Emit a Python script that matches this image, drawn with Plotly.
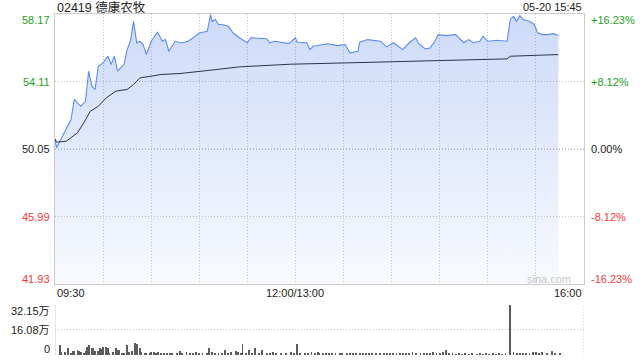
import plotly.graph_objects as go

# ---- data (minutes from 09:30 on a 330-minute trading axis; 12:00 == 13:00 at 150) ----
price_t = [0, 1, 3, 7, 10, 12, 16, 19, 21, 23, 25, 27, 30, 33, 35, 37, 39, 43, 45, 47, 49, 51, 53, 55, 57,
           60, 64, 67, 69, 71, 75, 79, 83, 86, 90, 95, 97, 98, 100, 102, 104, 108, 111, 115, 120, 122,
           132, 134, 137, 146, 150, 151, 157, 159, 161, 170, 176, 181, 184, 189, 190, 195, 203, 207,
           211, 214, 217, 221, 225, 227, 231, 234, 237, 239, 244, 250, 255, 258, 261, 265, 267, 270,
           276, 282, 284, 286, 288, 290, 292, 296, 299, 301, 304, 307, 311, 314]
price_v = [50.66, 50.12, 50.52, 51.22, 51.82, 53.03, 52.62, 52.92, 54.73, 53.83, 53.63, 55.03, 55.23,
           55.63, 55.13, 55.63, 54.73, 55.13, 56.03, 56.53, 57.73, 56.43, 56.53, 56.33, 55.73,
           56.53, 57.07, 56.53, 56.63, 55.93, 56.53, 56.43, 56.53, 56.73, 57.03, 57.13, 58.14, 57.73,
           57.84, 57.54, 57.54, 57.43, 57.04, 56.74, 56.44, 56.74,
           56.68, 56.44, 56.53, 56.39, 56.74, 56.47, 56.44, 56.03, 56.23, 56.38, 56.27, 56.33, 55.83,
           55.93, 56.47, 56.63, 56.53, 56.19, 56.44, 56.23, 56.03, 56.44, 56.74, 56.38, 56.07, 56.13,
           56.53, 56.93, 56.87, 56.93, 56.44, 56.63, 56.44, 56.53, 56.83, 56.53,
           56.59, 56.53, 57.84, 58.03, 57.73, 58.08, 57.84, 57.73, 57.54, 57.04, 56.93, 56.93, 56.99, 56.87]

avg_t = [0, 1, 7, 14, 18, 22, 27, 32, 38, 45, 49, 53, 60, 66, 78, 90, 97, 115, 136, 147, 182, 242, 282, 284, 314]
avg_v = [50.66, 50.46, 50.52, 51.02, 51.63, 52.32, 52.62, 53.13, 53.53, 53.63, 53.93, 54.33, 54.43, 54.53,
         54.59, 54.69, 54.79, 54.99, 55.11, 55.15, 55.23, 55.39, 55.47, 55.63, 55.73]

vol_t = [3, 4, 6, 8, 10, 11, 12, 14, 15, 16, 18, 19, 20, 21, 23, 24, 25, 27, 28, 29, 30, 32, 33, 34, 36, 38,
         39, 40, 42, 43, 45, 46, 48, 50, 51, 53, 54, 56, 57, 59, 60, 62, 63, 64, 66, 68, 70, 72, 73, 76, 78, 79,
         82, 84, 86, 88, 90, 92, 95, 96, 98, 100, 102, 104, 106, 108, 110, 113, 114, 116, 117, 119, 121, 123,
         125, 127, 129, 132, 134, 136, 138, 141, 144, 147, 149, 151, 153, 156, 158, 160, 162, 164,
         165, 167, 169, 171, 173, 175, 178, 179, 182, 184, 186, 188, 190, 192, 194, 196, 198, 200, 203, 205,
         207, 209, 211, 213, 215, 217, 219, 221, 223, 225, 228, 230, 232, 234, 236, 238, 240, 242, 244, 246,
         248, 250, 252, 254, 256, 258, 260, 263, 265, 267, 269, 271, 273, 275, 277, 279, 281, 284, 286, 288,
         290, 292, 294, 296, 298, 300, 302, 304, 307, 310, 312, 315]
vol_v = [6.5, 1.7, 1.7, 4.3, 1.3, 2.8, 2.8, 3.5, 2.8, 2.2, 1.3, 2.8, 5.0, 6.5, 4.3, 4.3, 2.8, 2.8, 4.3, 3.9,
         5.0, 5.0, 4.3, 1.3, 2.2, 4.3, 3.5, 3.5, 1.3, 1.3, 6.5, 2.2, 2.8, 7.8, 7.2, 4.3, 1.7, 1.3, 0.9, 0.9,
         1.7, 2.2, 1.3, 1.7, 1.3, 0.9, 1.3, 1.3, 0.9, 0.9, 2.8, 1.3,
         2.0, 1.3, 1.0, 1.7, 1.0, 1.3, 1.0, 4.5, 1.7, 1.3, 1.0, 1.3, 3.3, 1.3, 1.7, 2.8, 1.7, 1.3, 7.3, 1.3,
         3.3, 1.3, 4.3, 1.0, 3.0, 1.3, 1.0, 2.2, 1.0, 1.3, 1.0, 1.7, 1.3, 7.0, 1.3, 1.0, 1.3, 2.2, 1.3, 2.2,
         1.3, 0.9, 1.0, 0.9, 0.7, 0.7, 0.9, 1.3, 0.9, 1.3, 0.9, 1.0, 0.7, 0.9, 1.0, 0.7, 0.9, 0.7, 0.9, 0.7,
         0.9, 0.7, 0.9, 1.0, 0.7, 0.9, 0.9, 1.0, 2.2, 1.3, 0.9, 1.0, 0.9, 1.3, 1.7, 1.3, 1.0, 1.7, 3.3, 1.3,
         0.7, 0.6, 0.7, 0.6, 0.7, 0.6, 0.7, 0.6, 0.7, 0.6, 0.7, 0.6, 0.7, 0.6, 0.7, 0.6, 0.7, 32.0, 2.2, 1.3,
         1.0, 0.9, 1.3, 1.3, 1.7, 2.2, 1.3, 1.7, 1.0, 2.6, 1.0, 0.9]

prev_close = 50.05
price_ticks = [41.93, 45.99, 50.05, 54.11, 58.17]
pct_labels = ["-16.23%", "-8.12%", "0.00%", "+8.12%", "+16.23%"]
vol_ticks = [0, 16.08, 32.15]
vol_labels = ["0", "16.08万", "32.15万"]
time_ticks = [0, 150, 330]
time_labels = ["09:30", "12:00/13:00", "16:00"]
title_text = "02419 德康农牧"
stamp_text = "05-20 15:45"

GREEN = "#1ba21b"
RED = "#f03a3a"
GRID = "#c4c4c4"
DOT = "1px,2px"
FONT = "Liberation Sans, Arial, sans-serif"

fig = go.Figure()

fig.add_trace(go.Scatter(
    x=price_t, y=price_v, mode="lines", fill="tozeroy",
    line=dict(color="#5b8def", width=1.1),
    fillgradient=dict(type="vertical", start=price_ticks[0], stop=price_ticks[-1],
                      colorscale=[[0, "rgba(70,120,230,0.04)"], [1, "rgba(70,120,230,0.27)"]]),
    xaxis="x", yaxis="y", hoverinfo="skip", showlegend=False))
fig.add_trace(go.Scatter(
    x=avg_t, y=avg_v, mode="lines", line=dict(color="#2b3548", width=1),
    xaxis="x", yaxis="y", hoverinfo="skip", showlegend=False))
fig.add_trace(go.Bar(
    x=vol_t, y=vol_v, width=0.55, marker=dict(color="#5c5c5c", line=dict(width=0)),
    xaxis="x2", yaxis="y2", hoverinfo="skip", showlegend=False))

main_dom = [1 - 270 / 341, 1]
vol_dom = [0, 1 - 291 / 341]

fig.update_layout(
    width=640, height=360,
    margin=dict(l=55, r=56, t=14, b=5),
    paper_bgcolor="white", plot_bgcolor="rgba(0,0,0,0)",
    font=dict(family=FONT, size=11, color="#222"),
    bargap=0,
    xaxis=dict(domain=[0, 1], range=[0, 330], anchor="y",
               tickvals=list(range(0, 331, 30)), showticklabels=False, ticks="",
               showgrid=True, gridcolor=GRID, griddash=DOT, gridwidth=1,
               showline=True, linecolor="#cccccc", linewidth=1, mirror=True, zeroline=False,
               layer="above traces"),
    yaxis=dict(domain=main_dom, range=[price_ticks[0], price_ticks[-1]], anchor="x",
               tickvals=price_ticks, showticklabels=False, ticks="",
               showgrid=True, gridcolor=GRID, griddash=DOT, gridwidth=1,
               showline=True, linecolor="#cccccc", linewidth=1, mirror=True, zeroline=False,
               layer="above traces"),
    xaxis2=dict(domain=[0, 1], range=[0, 330], anchor="y2",
                showticklabels=False, ticks="", showgrid=False, showline=False, zeroline=False),
    yaxis2=dict(domain=vol_dom, range=[0, 32.15], anchor="x2",
                tickvals=vol_ticks, showticklabels=False, ticks="",
                showgrid=True, gridcolor=GRID, griddash=DOT, gridwidth=1,
                showline=False, zeroline=False),
)

# volume panel side borders
fig.add_shape(type="line", xref="x2", yref="y2", x0=0, x1=0, y0=0, y1=32.15,
              line=dict(color="#cccccc", width=1))
fig.add_shape(type="line", xref="x2", yref="y2", x0=330, x1=330, y0=0, y1=32.15,
              line=dict(color=GRID, width=1, dash=DOT))
# previous close line
fig.add_shape(type="line", xref="x", yref="y", x0=0, x1=330, y0=prev_close, y1=prev_close,
              line=dict(color="#a8a8a8", width=1, dash=DOT), layer="above")

ann = []
shifts = [5, 0, 0, 0, -6]
for i, (v, pl) in enumerate(zip(price_ticks, pct_labels)):
    col = GREEN if v > prev_close else (RED if v < prev_close else "#222")
    ann.append(dict(x=0, xref="paper", y=v, yref="y", text=f"{v:.2f}", xanchor="right",
                    yanchor="middle", xshift=-3, yshift=shifts[i], showarrow=False,
                    font=dict(color=col, size=11, family=FONT)))
    ann.append(dict(x=1, xref="paper", y=v, yref="y", text=pl, xanchor="left",
                    yanchor="middle", xshift=5, yshift=shifts[i], showarrow=False,
                    font=dict(color=col, size=11, family=FONT)))
vshift = [6, 0, -6]
for v, lab, s in zip(vol_ticks, vol_labels, vshift):
    ann.append(dict(x=0, xref="paper", y=v, yref="y2", text=lab, xanchor="right",
                    yanchor="middle", xshift=-3, yshift=s, showarrow=False,
                    font=dict(color="#222", size=11, family="Liberation Sans, Noto Sans CJK SC")))
anchors = ["left", "center", "right"]
for t, lab, a in zip(time_ticks, time_labels, anchors):
    ann.append(dict(x=t, xref="x", y=1 - 279 / 341, yref="paper", text=lab, xanchor=a,
                    yanchor="middle", showarrow=False, font=dict(color="#222", size=11, family=FONT)))
ann.append(dict(x=0, xref="paper", y=1 + 7 / 341, yref="paper", text=title_text, xanchor="left",
                yanchor="middle", showarrow=False,
                font=dict(color="#222", size=12.5, family="Liberation Sans, Noto Sans CJK SC")))
ann.append(dict(x=1, xref="paper", y=1 + 7 / 341, yref="paper", text=stamp_text, xanchor="right",
                yanchor="middle", showarrow=False, font=dict(color="#222", size=11, family=FONT)))
ann.append(dict(x=1, xref="paper", y=1 - 265 / 341, yref="paper", text="sina.com", xanchor="right",
                yanchor="middle", xshift=-11, showarrow=False, font=dict(color="#c8c8c8", size=11, family=FONT)))
fig.update_layout(annotations=ann)

fig.write_html("out.html")
